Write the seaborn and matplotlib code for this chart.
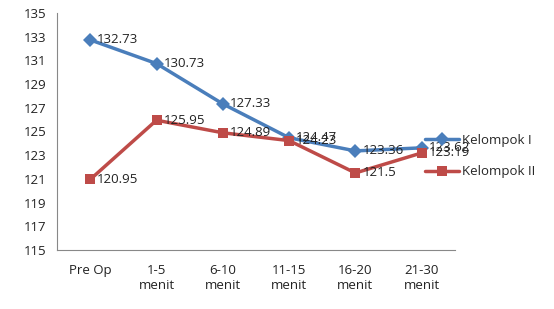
import pandas as pd
import numpy as np
import seaborn as sns
import matplotlib.pyplot as plt
from matplotlib.lines import Line2D

waktu = ['Pre Op', '1-5\nmenit', '6-10\nmenit', '11-15\nmenit', '16-20\nmenit', '21-30\nmenit']
kelompok_1 = [132.73, 130.73, 127.33, 124.47, 123.36, 123.62]
kelompok_2 = [120.95, 125.95, 124.89, 124.23, 121.5, 123.19]
label_1 = ['132.73', '130.73', '127.33', '124.47', '123.36', '123.62']
label_2 = ['120.95', '125.95', '124.89', '124.23', '121.5', '123.19']

df = pd.DataFrame({
    'waktu': waktu * 2,
    'pos': list(range(len(waktu))) * 2,
    'nilai': kelompok_1 + kelompok_2,
    'kelompok': ['Kelompok I'] * len(waktu) + ['Kelompok II'] * len(waktu),
})

sns.set_style('white')
plt.rcParams['font.family'] = ['Open Sans', 'DejaVu Sans']
fs = 9.5

fig = plt.figure(figsize=(5.54, 3.09), dpi=100)
ax = fig.add_axes([0.103, 0.191, 0.718, 0.767])

warna = {'Kelompok I': '#4A7EBB', 'Kelompok II': '#BE4B48'}
sns.lineplot(data=df, x='pos', y='nilai', hue='kelompok', style='kelompok',
             markers={'Kelompok I': 'D', 'Kelompok II': 's'},
             dashes=False, palette=warna, linewidth=2.5, markersize=7.5,
             markeredgewidth=0, ax=ax, legend=False)

for i in range(len(waktu)):
    ax.annotate(label_1[i], (i, kelompok_1[i]), xytext=(5, 0), textcoords='offset points',
                va='center', ha='left', fontsize=fs, color='#222222')
    ax.annotate(label_2[i], (i, kelompok_2[i]), xytext=(5, 0), textcoords='offset points',
                va='center', ha='left', fontsize=fs, color='#222222')

ax.set_xlim(-0.5, len(waktu) - 0.5)
ax.set_ylim(115, 135)
ax.set_yticks(np.arange(115, 136, 2))
ax.set_xticks(range(len(waktu)))
ax.set_xticklabels(waktu, fontsize=fs, color='#222222')
ax.set_xticks(np.arange(-0.5, len(waktu), 1), minor=True)
ax.tick_params(axis='x', which='major', length=0, pad=10)
ax.tick_params(axis='x', which='minor', length=4, color='#888888', direction='out')
ax.tick_params(axis='y', length=4, color='#888888', direction='out', labelsize=fs, labelcolor='#222222')
ax.set_xlabel('')
ax.set_ylabel('')
for s in ['top', 'right']:
    ax.spines[s].set_visible(False)
for s in ['left', 'bottom']:
    ax.spines[s].set_color('#888888')
    ax.spines[s].set_linewidth(0.8)

handles = [Line2D([], [], color=warna['Kelompok I'], marker='D', lw=2.5, ms=7.5, mew=0),
           Line2D([], [], color=warna['Kelompok II'], marker='s', lw=2.5, ms=7.5, mew=0)]
fig.legend(handles, ['Kelompok I', 'Kelompok II'], loc='upper left',
           bbox_to_anchor=(0.745, 0.605), frameon=False, fontsize=fs,
           handlelength=2.6, handletextpad=0.2, labelspacing=1.4)

fig.savefig('out.png', dpi=100)
